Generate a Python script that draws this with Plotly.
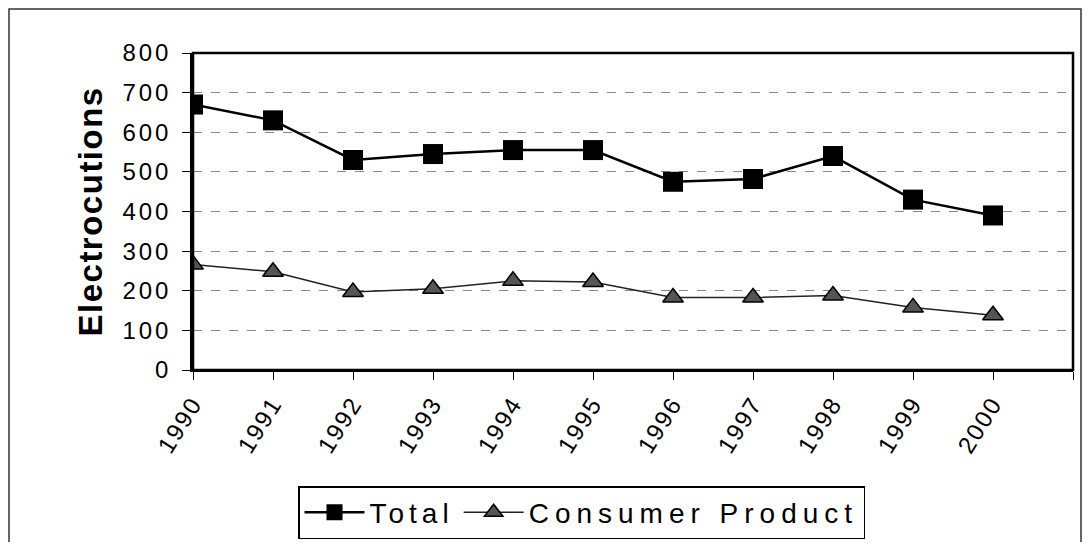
import plotly.graph_objects as go

years = [1990, 1991, 1992, 1993, 1994, 1995, 1996, 1997, 1998, 1999, 2000]
total = [670, 630, 530, 545, 555, 555, 475, 482, 540, 430, 390]
consumer = [266, 248, 197, 205, 225, 222, 183, 183, 188, 158, 138]
y_ticks = [0, 100, 200, 300, 400, 500, 600, 700, 800]
series_names = ["Total", "Consumer Product"]
y_title = "Electrocutions"


def spaced(s, px_):
    return f'<span style="letter-spacing:{px_}px">{s}</span>'


fig = go.Figure()
fig.add_trace(go.Scatter(x=years, y=total, name=spaced(series_names[0], 5), mode="lines+markers",
                         line=dict(color="black", width=2.5),
                         marker=dict(symbol="square", size=20, color="black")))
fig.add_trace(go.Scatter(x=years, y=consumer, name=spaced(series_names[1], 6), mode="lines+markers",
                         line=dict(color="#222", width=1.5),
                         marker=dict(symbol="triangle-up", size=18, color="#555",
                                     line=dict(color="black", width=1.5))))

OFF = 8  # page body margin
W0, W1, T, B = 193, 1073, 53, 370  # plot area in page pixels
pw, ph = W1 - W0, B - T
FW, FH = 1090 - 2 * OFF, 550 - 2 * OFF


def px(x):
    return (x - W0) / pw


def py(y):
    return (B - y) / ph


FONT = "Arial, Liberation Sans, sans-serif"

fig.update_layout(
    width=FW, height=FH,
    margin=dict(l=W0 - OFF, r=FW - (W1 - OFF), t=T - OFF, b=FH - (B - OFF), autoexpand=False),
    paper_bgcolor="white", plot_bgcolor="white",
    font=dict(family=FONT, color="black"),
    showlegend=True,
    legend=dict(orientation="h", x=px(298), xanchor="left", y=py(486), yanchor="top",
                font=dict(size=28, family=FONT), bordercolor="black", borderwidth=1.5,
                bgcolor="white", itemwidth=60),
    xaxis=dict(range=[1990, 2001], tickvals=years + [2001],
               ticktext=[spaced(str(y), 2) for y in years] + [""],
               tickangle=-58, tickfont=dict(size=24, family=FONT),
               ticks="outside", ticklen=8, tickcolor="black", automargin=False,
               showgrid=False, zeroline=False, showline=True, linecolor="black", linewidth=2),
    yaxis=dict(range=[0, 800], tickvals=y_ticks,
               ticktext=[spaced(str(v), 3) for v in y_ticks],
               tickfont=dict(size=24, family=FONT), ticklabelstandoff=6,
               ticks="outside", ticklen=8, tickcolor="black", automargin=False,
               showgrid=True, gridcolor="#888", griddash="dash", gridwidth=1,
               zeroline=False, showline=True, linecolor="black", linewidth=2.5),
)

# plot-area frame
fig.add_shape(type="rect", xref="paper", yref="paper", x0=0, x1=1, y0=0, y1=1,
              line=dict(color="black", width=2.5))
# outer chart border
fig.add_shape(type="rect", xref="paper", yref="paper",
              x0=px(9), x1=px(1081), y0=py(580), y1=py(9),
              line=dict(color="#333", width=1.5))

fig.add_annotation(text="<b>" + spaced(y_title, 1.5) + "</b>", xref="paper", yref="paper",
                   x=px(69), y=py(212), textangle=-90, showarrow=False,
                   font=dict(size=33, family=FONT))

fig.write_html("out.html")
